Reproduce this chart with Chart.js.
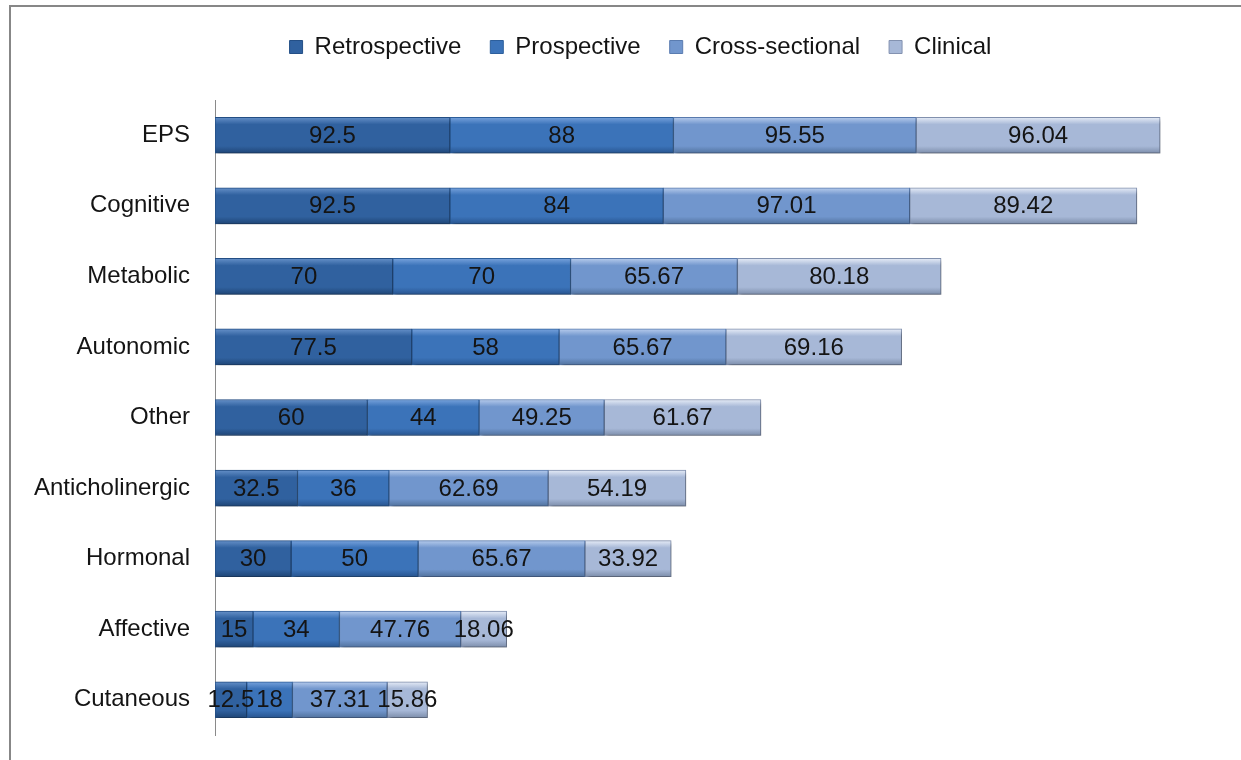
<!DOCTYPE html>
<html>
<head>
<meta charset="utf-8">
<script src="https://cdn.jsdelivr.net/npm/chart.js@4.4.0/dist/chart.umd.min.js"></script>
<style>
html,body{margin:0;padding:0;background:#fff;}
#wrap{width:1241px;height:760px;position:relative;}
</style>
</head>
<body>
<div id="wrap"><canvas id="c" width="1241" height="760"></canvas></div>
<script>
const categories = ["EPS","Cognitive","Metabolic","Autonomic","Other","Anticholinergic","Hormonal","Affective","Cutaneous"];
const seriesNames = ["Retrospective","Prospective","Cross-sectional","Clinical"];
const retrospective = [92.5, 92.5, 70, 77.5, 60, 32.5, 30, 15, 12.5];
const prospective = [88, 84, 70, 58, 44, 36, 50, 34, 18];
const crossSectional = [95.55, 97.01, 65.67, 65.67, 49.25, 62.69, 65.67, 47.76, 37.31];
const clinical = [96.04, 89.42, 80.18, 69.16, 61.67, 54.19, 33.92, 18.06, 15.86];

const palettes = [
  {top:'#6590c8', base:'#30619f', bottom:'#1f4677', border:'#244f86'},
  {top:'#77a2dc', base:'#3b73b9', bottom:'#285590', border:'#2d5f9c'},
  {top:'#b6cbec', base:'#7196cd', bottom:'#52739f', border:'#5a7cb0'},
  {top:'#e6ecf7', base:'#a7b8d7', bottom:'#7d8eab', border:'#8392b0'}
];

function makeFill(i){
  return function(ctx){
    const chart = ctx.chart;
    const p = palettes[i];
    if (!chart.chartArea || !chart.scales.y || ctx.type !== 'data') return p.base;
    const yc = chart.scales.y.getPixelForValue(ctx.dataIndex);
    const h = 18;
    const g = chart.ctx.createLinearGradient(0, yc - h, 0, yc + h);
    g.addColorStop(0, p.top);
    g.addColorStop(0.2, p.base);
    g.addColorStop(0.8, p.base);
    g.addColorStop(1, p.bottom);
    return g;
  };
}

const seriesData = [retrospective, prospective, crossSectional, clinical];
const datasets = seriesNames.map((name, i) => ({
  label: name,
  data: seriesData[i],
  backgroundColor: makeFill(i),
  borderColor: palettes[i].border,
  borderWidth: 1,
  borderSkipped: false,
  barThickness: 36
}));

const framePlugin = {
  id: 'frame',
  beforeInit(chart){
    const leg = chart.legend;
    if (leg) {
      const orig = leg.fit;
      leg.fit = function(){ orig.call(this); this.height = 100; };
    }
  },
  afterLayout(chart){
    if (chart.legend) { chart.legend.left += 40; chart.legend.top += 6; }
  },
  beforeDraw(chart){
    const c = chart.ctx;
    c.save();
    c.fillStyle = '#ffffff';
    c.fillRect(0,0,chart.width,chart.height);
    c.strokeStyle = '#878787';
    c.lineWidth = 2;
    c.beginPath();
    c.moveTo(10, chart.height);
    c.lineTo(10, 6);
    c.lineTo(chart.width, 6);
    c.stroke();
    c.restore();
  },
  beforeDatasetsDraw(chart){
    const c = chart.ctx;
    c.save();
    c.shadowColor = 'rgba(0,0,0,0.35)';
    c.shadowBlur = 4;
    c.shadowOffsetX = 2;
    c.shadowOffsetY = 3;
  },
  afterDatasetsDraw(chart){
    chart.ctx.restore();
  },
  afterDraw(chart){
    const c = chart.ctx;
    c.save();
    c.font = '24px "Liberation Sans", Arial, sans-serif';
    c.fillStyle = '#141414';
    c.textAlign = 'center';
    c.textBaseline = 'middle';
    chart.data.datasets.forEach((ds, di) => {
      const meta = chart.getDatasetMeta(di);
      meta.data.forEach((el, j) => {
        const p = el.getProps(['x','base','y'], true);
        c.fillText(String(ds.data[j]), (p.x + p.base)/2, p.y + 1);
      });
    });
    c.restore();
  }
};

new Chart(document.getElementById('c'), {
  type: 'bar',
  data: { labels: categories, datasets: datasets },
  options: {
    indexAxis: 'y',
    responsive: false,
    animation: false,
    layout: { padding: { left: 10, right: 10, top: 0, bottom: 25 } },
    plugins: {
      legend: {
        position: 'top',
        labels: {
          font: { size: 24, family: '"Liberation Sans", Arial, sans-serif' },
          color: '#141414',
          boxWidth: 13,
          boxHeight: 13,
          padding: 29,
          generateLabels(chart){
            return seriesNames.map((n, i) => ({
              text: n,
              fillStyle: palettes[i].base,
              strokeStyle: palettes[i].border,
              lineWidth: 1,
              datasetIndex: i,
              fontColor: '#141414'
            }));
          }
        }
      },
      tooltip: { enabled: false }
    },
    scales: {
      x: { stacked: true, min: 0, max: 400, display: false },
      y: {
        stacked: true,
        grid: { display: false, drawTicks: false },
        border: { display: true, color: '#8a8a8a', width: 1 },
        ticks: {
          font: { size: 24, family: '"Liberation Sans", Arial, sans-serif' },
          color: '#141414',
          padding: 25
        },
        afterFit(scale){ scale.width = 205; scale.paddingTop = 0; scale.paddingBottom = 0; }
      }
    }
  },
  plugins: [framePlugin]
});
</script>
</body>
</html>
